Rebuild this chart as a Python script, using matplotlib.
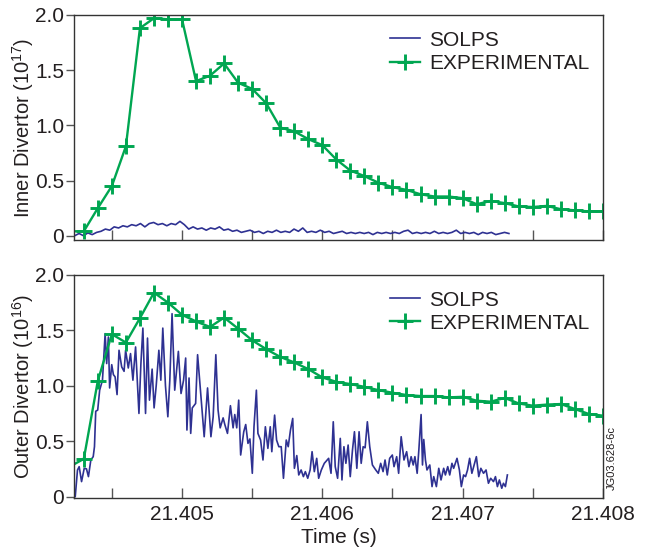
import numpy as np
import matplotlib
matplotlib.use("Agg")
import matplotlib.pyplot as plt
from matplotlib.ticker import FixedLocator, FixedFormatter

plt.rcParams['font.family'] = ['Liberation Sans', 'DejaVu Sans']
plt.rcParams['mathtext.default'] = 'regular'

T0 = 21.404  # s, times below are in ms after T0

# experimental data, one point every 0.1 ms (first point is off the left edge)
exp_ms = [0.2, 0.3, 0.4, 0.5, 0.6, 0.7, 0.8, 0.9, 1.0, 1.1, 1.2, 1.3, 1.4,
          1.5, 1.6, 1.7, 1.8, 1.9, 2.0, 2.1, 2.2, 2.3, 2.4, 2.5, 2.6, 2.7,
          2.8, 2.9, 3.0, 3.1, 3.2, 3.3, 3.4, 3.5, 3.6, 3.7, 3.8, 3.9, 4.0]
exp_inner = [0.04, 0.04, 0.25, 0.45, 0.81, 1.88, 1.97, 1.96, 1.96, 1.40,
             1.45, 1.56, 1.385, 1.33, 1.20, 0.98, 0.945, 0.875, 0.82, 0.69,
             0.59, 0.54, 0.48, 0.44, 0.415, 0.375, 0.355, 0.355, 0.34, 0.285,
             0.315, 0.295, 0.265, 0.26, 0.27, 0.24, 0.23, 0.22, 0.22]
exp_outer = [0.27, 0.34, 1.045, 1.465, 1.39, 1.61, 1.84, 1.75, 1.64, 1.58,
             1.53, 1.615, 1.515, 1.41, 1.33, 1.26, 1.21, 1.15, 1.075, 1.035,
             1.015, 0.99, 0.96, 0.937, 0.916, 0.907, 0.907, 0.895, 0.90, 0.865,
             0.856, 0.89, 0.84, 0.82, 0.83, 0.835, 0.79, 0.745, 0.73]

# SOLPS inner divertor (10^17), evenly sampled between these times
solps_in_start, solps_in_end = 0.235, 3.33
solps_in = [0.00, 0.02, 0.00, 0.025, 0.01, 0.03,
            0.04, 0.06, 0.05, 0.08, 0.07, 0.09,
            0.08, 0.10, 0.09, 0.11, 0.08, 0.11, 0.12, 0.10, 0.11, 0.09, 0.11, 0.10, 0.13,
            0.10,
            0.06, 0.08, 0.06, 0.07, 0.05, 0.07, 0.06, 0.08, 0.05, 0.06,
            0.04, 0.05, 0.03, 0.04, 0.05, 0.03, 0.04, 0.02, 0.04, 0.03, 0.05, 0.03, 0.04, 0.03,
            0.06, 0.04, 0.07, 0.03,
            0.04, 0.03, 0.05, 0.03, 0.04, 0.02, 0.03, 0.04, 0.02, 0.03, 0.02,
            0.03, 0.02, 0.03, 0.01, 0.03, 0.02, 0.03, 0.02, 0.03, 0.02, 0.04,
            0.05, 0.02,
            0.03, 0.02, 0.03, 0.02, 0.04, 0.02, 0.03, 0.02, 0.03,
            0.05, 0.02,
            0.03, 0.02, 0.03, 0.01, 0.03, 0.02, 0.03, 0.01, 0.02, 0.03, 0.02]

# SOLPS outer divertor (10^16)
solps_out_ms = [
    0.239, 0.255, 0.267, 0.284, 0.303, 0.319, 0.333, 0.350, 0.367, 0.376,
    0.385, 0.399, 0.413, 0.433, 0.452, 0.463, 0.475, 0.484, 0.499, 0.511,
    0.523, 0.537, 0.551, 0.570, 0.587, 0.598, 0.617, 0.633, 0.650, 0.669,
    0.693, 0.707, 0.721, 0.740, 0.754, 0.768, 0.787, 0.801, 0.816, 0.835,
    0.849, 0.863, 0.882, 0.899, 0.913, 0.929, 0.948, 0.974, 0.993, 1.011,
    1.026, 1.035, 1.050, 1.062, 1.073, 1.097, 1.111, 1.135, 1.158, 1.182,
    1.206, 1.222, 1.241, 1.257, 1.272, 1.293, 1.305, 1.324, 1.345, 1.364,
    1.376, 1.390, 1.404, 1.418, 1.440, 1.454, 1.470, 1.484, 1.501, 1.513,
    1.530, 1.541, 1.560, 1.577, 1.594, 1.612, 1.629, 1.640, 1.660, 1.674,
    1.690, 1.707, 1.723, 1.743, 1.757, 1.773, 1.789, 1.801, 1.818, 1.832,
    1.849, 1.865, 1.879, 1.896, 1.913, 1.927, 1.943, 1.960, 1.974, 1.993,
    2.014, 2.045, 2.062, 2.078, 2.092, 2.109, 2.128, 2.140, 2.154, 2.168,
    2.184, 2.199, 2.215, 2.229, 2.246, 2.262, 2.277, 2.291, 2.305, 2.321,
    2.338, 2.357, 2.381, 2.399, 2.416, 2.433, 2.447, 2.463, 2.480, 2.499,
    2.511, 2.530, 2.544, 2.562, 2.582, 2.601, 2.617, 2.633, 2.648, 2.660,
    2.676, 2.688, 2.704, 2.714, 2.723, 2.735, 2.746, 2.766, 2.782, 2.794,
    2.813, 2.830, 2.846, 2.865, 2.877, 2.894, 2.908, 2.924, 2.936, 2.960,
    2.977, 2.991, 3.007, 3.021, 3.035, 3.050, 3.066, 3.082, 3.098, 3.115,
    3.130, 3.149, 3.167, 3.184, 3.200, 3.220, 3.234, 3.248, 3.262, 3.279,
    3.291, 3.305, 3.319]
solps_out = [
    0.0, 0.24, 0.27, 0.135, 0.255, 0.25, 0.18, 0.33, 0.36, 0.45,
    0.77, 0.78, 0.96, 1.05, 1.47, 1.2, 1.44, 0.98, 1.19, 1.1,
    1.08, 0.92, 1.32, 1.17, 1.13, 1.32, 1.16, 1.29, 1.05, 1.35,
    0.75, 1.2, 1.52, 0.75, 1.43, 0.87, 1.15, 0.8, 1.0, 1.32,
    1.05, 1.52, 1.0, 0.72, 1.05, 1.65, 0.96, 1.31, 0.93, 1.05,
    1.25, 0.6, 1.07, 0.57, 0.8, 0.84, 1.28, 0.9, 0.54, 0.98,
    0.54, 0.72, 1.28, 0.78, 0.62, 0.71, 0.65, 0.57, 0.82, 0.62,
    0.74, 0.62, 0.87, 0.375, 0.585, 0.65, 0.48, 0.52, 0.21, 0.63,
    0.96, 0.57, 0.51, 0.33, 0.63, 0.435, 0.63, 0.405, 0.735, 0.51,
    0.45, 0.45, 0.165, 0.51, 0.45, 0.6, 0.705, 0.255, 0.37, 0.195,
    0.24, 0.18, 0.225, 0.165, 0.24, 0.405, 0.225, 0.345, 0.165, 0.24,
    0.30, 0.345, 0.21, 0.675, 0.27, 0.165, 0.525, 0.15, 0.45, 0.30,
    0.465, 0.18, 0.42, 0.585, 0.255, 0.585, 0.30, 0.45, 0.44, 0.675,
    0.45, 0.285, 0.24, 0.21, 0.30, 0.225, 0.33, 0.195, 0.345, 0.375,
    0.27, 0.36, 0.21, 0.54, 0.33, 0.405, 0.27, 0.36, 0.285, 0.36,
    0.21, 0.42, 0.74, 0.285, 0.515, 0.33, 0.24, 0.285, 0.09, 0.18,
    0.09, 0.255, 0.15, 0.255, 0.195, 0.27, 0.195, 0.30, 0.255, 0.345,
    0.24, 0.09, 0.195, 0.18, 0.24, 0.345, 0.21, 0.285, 0.36, 0.18,
    0.255, 0.21, 0.24, 0.12, 0.165, 0.135, 0.18, 0.09, 0.15, 0.075,
    0.12, 0.09, 0.195]

major_t = [21.405, 21.406, 21.407, 21.408]
minor_t = [21.4045, 21.4055, 21.4065, 21.4075]
y_ticks = [0, 0.5, 1.0, 1.5, 2.0]
y_ticklabels = ["0", "0.5", "1.0", "1.5", "2.0"]

blue = "#2e3192"
green = "#00a651"
txt = "#231f20"

t_exp = T0 + np.array(exp_ms) / 1000
t_in = T0 + np.linspace(solps_in_start, solps_in_end, len(solps_in)) / 1000
t_out = T0 + np.array(solps_out_ms) / 1000

fig = plt.figure(figsize=(6.49, 5.52), dpi=100)
ax1 = fig.add_axes([0.114, 0.565, 0.815, 0.408])
ax2 = fig.add_axes([0.114, 0.098, 0.815, 0.404])

panels = [
    (ax1, solps_in, t_in, exp_inner, "Inner Divertor (10$^{17}$)", -0.04),
    (ax2, solps_out, t_out, exp_outer, "Outer Divertor (10$^{16}$)", -0.012),
]

for ax, sol, ts, ex, ylab, ymin in panels:
    ax.plot(ts, sol, color=blue, lw=1.2, label="SOLPS")
    ax.plot(t_exp, ex, color=green, lw=1.7, marker="+", ms=11, mew=2.1,
            markevery=slice(1, None), label="EXPERIMENTAL")
    ax.set_xlim(21.40423, 21.408)
    ax.set_ylim(ymin, 2.0)
    ax.xaxis.set_major_locator(FixedLocator(major_t))
    ax.xaxis.set_minor_locator(FixedLocator(minor_t))
    ax.yaxis.set_major_locator(FixedLocator(y_ticks))
    ax.yaxis.set_major_formatter(FixedFormatter(y_ticklabels))
    ax.tick_params(axis="x", which="both", direction="in", length=7,
                   width=1, color="#555555", labelsize=15, pad=5, labelcolor=txt)
    ax.tick_params(axis="y", direction="out", length=6, width=1,
                   color="#555555", labelsize=15, pad=1, labelcolor=txt)
    for s in ax.spines.values():
        s.set_color("#333333")
        s.set_linewidth(1.0)
    ax.set_ylabel(ylab, fontsize=14.5, color=txt)
    ax.yaxis.set_label_coords(-0.071, 0.5)
    leg = ax.legend(loc="upper right", bbox_to_anchor=(0.975, 0.93),
                    frameon=False, fontsize=15, handlelength=1.45,
                    handletextpad=0.45, labelspacing=0.2, borderpad=0,
                    borderaxespad=0)
    for t in leg.get_texts():
        t.set_color(txt)

ax1.tick_params(axis="x", labelbottom=False)
ax2.xaxis.set_major_formatter(FixedFormatter(["21.405", "21.406", "21.407", "21.408"]))
ax2.set_xlabel("Time (s)", fontsize=15, color=txt, labelpad=3)

fig.text(0.943, 0.112, "JG03.628-6c", rotation=90, ha="center", va="bottom",
         fontsize=8, color=txt)

fig.savefig("out.png", dpi=100)
